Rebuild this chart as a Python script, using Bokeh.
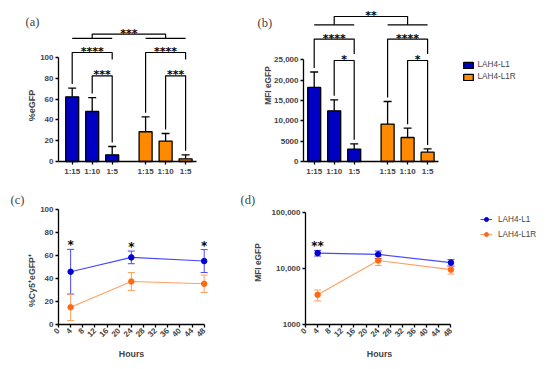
import math
from bokeh.plotting import figure
from bokeh.models import (ColumnDataSource, Whisker, TeeHead, FixedTicker, Label,
                          Legend, LegendItem, Range1d)
from bokeh.layouts import column, row
from bokeh.core.properties import value
from bokeh.embed import file_html
from bokeh.resources import INLINE

# ---------------- data ----------------
peptides = ["LAH4-L1", "LAH4-L1R"]
ratios = ["1:15", "1:10", "1:5"]

egfp_L1 = [62.2, 48.1, 6.4]
egfp_L1_sd = [8.4, 13.4, 8.0]
egfp_L1R = [28.6, 19.6, 2.6]
egfp_L1R_sd = [14.4, 7.3, 3.8]

mfi_L1 = [18200, 12450, 3050]
mfi_L1_sd = [3800, 2700, 1300]
mfi_L1R = [9200, 5900, 2300]
mfi_L1R_sd = [5550, 2300, 800]

egfp_pairs = [("1:10", "1:5", "***"), ("1:15", "1:5", "****")]
egfp_group_sig = "***"
mfi_pairs = [("1:10", "1:5", "*"), ("1:15", "1:5", "****")]
mfi_group_sig = "**"

egfp_ticks = [0, 20, 40, 60, 80, 100]
mfi_ticks = [0, 5000, 10000, 15000, 20000, 25000]
mfi_tick_labels = ["0", "5000", "10,000", "15,000", "20,000", "25,000"]

hours = [4, 24, 48]
cy5_L1 = [46.0, 58.5, 55.3]
cy5_L1_sd = [19.5, 5.5, 10.0]
cy5_L1R = [15.0, 37.5, 35.5]
cy5_L1R_sd = [11.5, 7.8, 7.6]
cy5_sig = ["*", "*", "*"]

mfit_L1 = [19000, 18000, 12800]
mfit_L1_sd = [2200, 2700, 1700]
mfit_L1R = [3400, 14000, 9600]
mfit_L1R_sd = [750, 2600, 1600]
mfit_sig = ["**", "", ""]

hour_ticks = [0, 4, 8, 12, 16, 20, 24, 28, 32, 36, 40, 44, 48]
cy5_ticks = [0, 20, 40, 60, 80, 100]
log_ticks = [1000, 10000, 100000]
log_tick_labels = ["1000", "10,000", "100,000"]

# ---------------- style ----------------
TOP_H, BOT_H = 178, 191
LEFT_W, RIGHT_W = 237, 313
BAR_STEP_PX = 20.0
GROUP_GAP = 0.67
BAR_W = 0.65
LEG_GAP_PX = 4
BAR_COLORS = ["#0000c4", "#ff8a00"]
LINE_COLORS = ["#4848ff", "#ffa060"]
MARK_COLORS = ["#0000d0", "#ff6a10"]
AX_FONT = "Liberation Sans"
STAR_FONT = "DejaVu Sans"
TAG_FONT = "Liberation Serif"
TICK_SIZE = "8px"


def make_fig(width, height, xr, yr, y_type="linear"):
    p = figure(width=width, height=height, x_range=Range1d(*xr), y_range=Range1d(*yr),
               y_axis_type=y_type, output_backend="svg", toolbar_location=None,
               min_border_left=0, min_border_right=0, min_border_top=0, min_border_bottom=0)
    p.xgrid.visible = False
    p.ygrid.visible = False
    p.outline_line_color = None
    return p


def style_axes(p, x_loc, y_loc):
    for ax in p.axis:
        ax.axis_line_color = "black"
        ax.axis_line_width = 1.3
        ax.major_tick_line_color = "black"
        ax.major_tick_line_width = 1.3
        ax.major_tick_out = 3
        ax.major_tick_in = 0
        ax.minor_tick_line_color = None
        ax.major_label_text_font = AX_FONT
        ax.major_label_text_font_style = "bold"
        ax.major_label_text_font_size = TICK_SIZE
        ax.major_label_standoff = 2
    p.yaxis.fixed_location = x_loc
    p.xaxis.fixed_location = y_loc


def add_text(p, text, sx, sy, font=AX_FONT, size="12px", style="normal", angle=0.0,
             align="left"):
    p.add_layout(Label(x=sx, y=sy, x_units="screen", y_units="screen", text=text,
                       text_font=font, text_font_size=size, text_font_style=style,
                       angle=angle, text_baseline="middle", text_align=align))


def bar_panel(width, axis_px, x_axis_val, px_per_unit, axis_top, series, yticks, ylabels,
              ylabel, ylabel_spec, pairs, group_sig, pair_levels,
              group_line, group_top, nested_leg_px, tag, tag_pos, bottom_px=17):
    H = TOP_H
    xs0 = x_axis_val - axis_px / BAR_STEP_PX
    ys0 = -bottom_px / px_per_unit
    p = make_fig(width, H, (xs0, xs0 + width / BAR_STEP_PX), (ys0, ys0 + H / px_per_unit))
    upp = 1.0 / px_per_unit
    n = len(ratios)
    pos = [[1 + i + g * (n + GROUP_GAP) for i in range(n)] for g in range(len(peptides))]
    rends = []
    bxs, bys, tx, ty, tt = [], [], [], [], []
    for g, (means, sds) in enumerate(series):
        tops = [m + s for m, s in zip(means, sds)]
        src = ColumnDataSource(dict(x=pos[g], top=means, upper=tops))
        r = p.vbar(x="x", top="top", width=BAR_W, source=src, fill_color=BAR_COLORS[g],
                   line_color="black", line_width=1.3)
        rends.append(r)
        p.add_layout(Whisker(source=src, base="x", lower="top", upper="upper",
                             dimension="height", line_width=1.3, line_color="black",
                             upper_head=TeeHead(size=8, line_width=1.3, line_color="black"),
                             lower_head=None))
        used_right = set()
        for (ra, rb, lab), lev in zip(pairs, pair_levels):
            ia, ib = ratios.index(ra), ratios.index(rb)
            ya = tops[ia] + LEG_GAP_PX * upp
            if ib in used_right:
                yb = lev - nested_leg_px * upp
            else:
                yb = tops[ib] + LEG_GAP_PX * upp
            used_right.add(ib)
            bxs.append([pos[g][ia], pos[g][ia], pos[g][ib], pos[g][ib]])
            bys.append([ya, lev, lev, yb])
            tx.append((pos[g][ia] + pos[g][ib]) / 2)
            ty.append(lev)
            tt.append(lab)
        bxs.append([pos[g][0], pos[g][-1]])
        bys.append([group_line, group_line])
    c0 = (pos[0][0] + pos[0][-1]) / 2
    c1 = (pos[1][0] + pos[1][-1]) / 2
    bxs.append([c0, c0, c1, c1])
    bys.append([group_line, group_top, group_top, group_line])
    tx.append((c0 + c1) / 2)
    ty.append(group_top)
    tt.append(group_sig)
    p.multi_line(xs=bxs, ys=bys, line_color="black", line_width=1.2)
    p.text(x=tx, y=ty, text=tt, text_font=value(STAR_FONT), text_font_style="bold",
           text_font_size="11px", text_align="center", text_baseline="alphabetic",
           y_offset=-1)
    style_axes(p, x_axis_val, 0)
    allpos = pos[0] + pos[1]
    p.xaxis.ticker = FixedTicker(ticks=allpos)
    p.xaxis.major_label_overrides = {x: ratios[i % n] for i, x in enumerate(allpos)}
    p.xaxis.bounds = (x_axis_val, allpos[-1] + 0.56)
    p.yaxis.ticker = FixedTicker(ticks=yticks)
    p.yaxis.major_label_overrides = {t: l for t, l in zip(yticks, ylabels)}
    p.yaxis.bounds = (0, axis_top)
    sx, sy, size, style = ylabel_spec
    add_text(p, ylabel, sx, H - sy, size=size, style=style, angle=math.pi / 2, align="center")
    add_text(p, tag, tag_pos[0], H - tag_pos[1], font=TAG_FONT, size="12.5px")
    return p, rends


pa, _ = bar_panel(LEFT_W, 58, 0.315, 1.04, 100,
                  [(egfp_L1, egfp_L1_sd), (egfp_L1R, egfp_L1R_sd)],
                  egfp_ticks, [str(t) for t in egfp_ticks],
                  "%eGFP", (31, 105, "9px", "bold"),
                  egfp_pairs, egfp_group_sig, [82.4, 104.8], 118.3, 122.5, 7,
                  "(a)", (25, 21))
pb, bar_rends = bar_panel(RIGHT_W, 66, 0.465, 101.7 / 25000, 25000,
                          [(mfi_L1, mfi_L1_sd), (mfi_L1R, mfi_L1R_sd)],
                          mfi_ticks, mfi_tick_labels,
                          "MFI eGFP", (267 - LEFT_W, 85, "8.4px", "bold"),
                          mfi_pairs, mfi_group_sig, [24830, 30090], 33600, 35640, 15,
                          "(b)", (257 - LEFT_W, 22.5))
leg_top = Legend(items=[LegendItem(label=peptides[i], renderers=[bar_rends[i]]) for i in range(2)],
                 location=(224.5, 97), padding=0, margin=0, spacing=3,
                 glyph_width=12, glyph_height=8, label_height=8, label_standoff=4,
                 label_text_font=AX_FONT, label_text_font_size="8.2px",
                 border_line_color=None, background_fill_alpha=0)
pb.add_layout(leg_top)


def line_panel(width, axis_px, px_per_h, y_type, y_axis_val, px_per_unit, px_up, series,
               yticks, ylabels, ylabel, ylabel_spec, xlabel_spec, sig, tag, tag_pos,
               legend_loc=None, bottom_px=45):
    H = BOT_H
    xs0 = -axis_px / px_per_h
    xr = (xs0, xs0 + width / px_per_h)
    if y_type == "log":
        l0 = math.log10(y_axis_val) - bottom_px / px_per_unit
        yr = (10 ** l0, 10 ** (l0 + H / px_per_unit))
    else:
        y0 = y_axis_val - bottom_px / px_per_unit
        yr = (y0, y0 + H / px_per_unit)
    p = make_fig(width, H, xr, yr, y_type)
    items = []
    uppers = []
    for g, (means, sds) in enumerate(series):
        up = [m + s for m, s in zip(means, sds)]
        lo = [m - s for m, s in zip(means, sds)]
        uppers.append(up)
        src = ColumnDataSource(dict(x=hours, y=means, upper=up, lower=lo))
        p.add_layout(Whisker(source=src, base="x", lower="lower", upper="upper",
                             dimension="height", line_width=1, line_color=LINE_COLORS[g],
                             upper_head=TeeHead(size=7, line_width=1, line_color=LINE_COLORS[g]),
                             lower_head=TeeHead(size=7, line_width=1, line_color=LINE_COLORS[g])))
        rl = p.line(x="x", y="y", source=src, line_color=LINE_COLORS[g], line_width=1.1)
        rs = p.scatter(x="x", y="y", source=src, size=5.5, fill_color=MARK_COLORS[g],
                       line_color=MARK_COLORS[g])
        items.append(LegendItem(label=peptides[g], renderers=[rl, rs]))
    top = [max(a, b) for a, b in zip(*uppers)]
    p.text(x=hours, y=top, text=sig, text_font=value(STAR_FONT), text_font_style="bold",
           text_font_size="12px", text_align="center", text_baseline="alphabetic",
           y_offset=-px_up)
    style_axes(p, 0, y_axis_val)
    p.xaxis.ticker = FixedTicker(ticks=hour_ticks)
    p.xaxis.bounds = (0, hour_ticks[-1])
    p.xaxis.major_label_orientation = math.pi / 4
    p.yaxis.ticker = FixedTicker(ticks=yticks)
    p.yaxis.major_label_overrides = {t: l for t, l in zip(yticks, ylabels)}
    p.yaxis.bounds = (yticks[0], yticks[-1])
    sx, sy, size = ylabel_spec
    add_text(p, ylabel, sx, H - sy, size=size, style="bold", angle=math.pi / 2, align="center")
    hx, hy, hsize = xlabel_spec
    add_text(p, "Hours", hx, H - hy, size=hsize, style="bold", align="center")
    add_text(p, tag, tag_pos[0], H - tag_pos[1], font=TAG_FONT, size="12.5px")
    if legend_loc is not None:
        leg = Legend(items=items, location=legend_loc, padding=0, margin=0, spacing=5,
                     glyph_width=12, glyph_height=10, label_height=10, label_standoff=6,
                     label_text_font=AX_FONT, label_text_font_size="8.2px",
                     border_line_color=None, background_fill_alpha=0)
        p.add_layout(leg)
    return p


pc = line_panel(LEFT_W, 58, 3.035, "linear", 0, 1.147, 4,
                [(cy5_L1, cy5_L1_sd), (cy5_L1R, cy5_L1R_sd)],
                cy5_ticks, [str(t) for t in cy5_ticks],
                "%Cy5\u207aeGFP\u207a", (31, 280 - TOP_H, "8.8px"),
                (131, 353 - TOP_H, "8.8px"),
                cy5_sig, "(c)", (10, 199 - TOP_H))
pd_ = line_panel(RIGHT_W, 68, 3.03, "log", 1000, 55.85, 4,
                 [(mfit_L1, mfit_L1_sd), (mfit_L1R, mfit_L1R_sd)],
                 log_ticks, log_tick_labels,
                 "MFI eGFP", (257 - LEFT_W, 262 - TOP_H, "8.4px"),
                 (379 - LEFT_W, 353 - TOP_H, "8.8px"),
                 mfit_sig, "(d)", (240 - LEFT_W, 199 - TOP_H), legend_loc=(243, 130))

layout = column(row(pa, pb), row(pc, pd_))
open("out.html", "w").write(file_html(layout, INLINE))
